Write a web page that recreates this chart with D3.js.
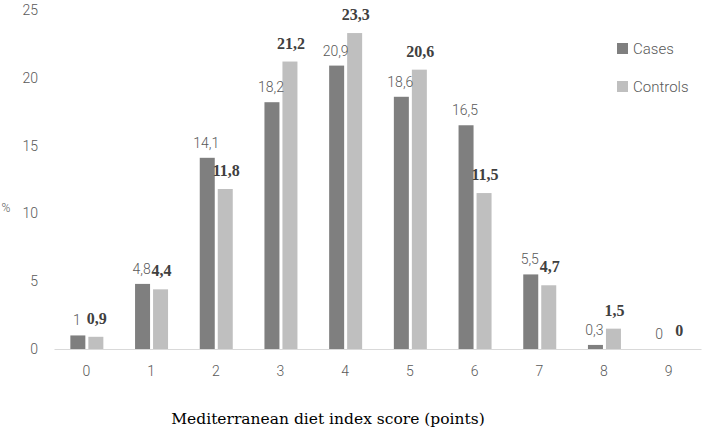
<!DOCTYPE html>
<html>
<head>
<meta charset="utf-8">
<script src="https://cdnjs.cloudflare.com/ajax/libs/d3/7.8.5/d3.min.js"></script>
<style>
  body { margin: 0; background: #fff; }
</style>
</head>
<body>
<div id="chart"></div>
<script>
(function () {
  let categories = ['0', '1', '2', '3', '4', '5', '6', '7', '8', '9'];
  let cases = [1, 4.8, 14.1, 18.2, 20.9, 18.6, 16.5, 5.5, 0.3, 0];
  let controls = [0.9, 4.4, 11.8, 21.2, 23.3, 20.6, 11.5, 4.7, 1.5, 0];
  let yTicks = [0, 5, 10, 15, 20, 25];

  let width = 708,
    height = 437;

  let svg = d3.select('#chart').append('svg')
    .attr('width', width)
    .attr('height', height);

  let xScale = d3.scaleBand()
    .domain(categories)
    .range([54, 701]);

  let yScale = d3.scaleLinear()
    .domain([0, 25])
    .range([349, 10]);

  let fmt = (v) => String(v).replace('.', ',');
  let sans = 'Roboto';

  // y tick labels (no axis line)
  svg.append('g').selectAll('text.ytick')
    .data(yTicks).enter()
    .append('text')
    .attr('class', 'ytick')
    .attr('x', 38)
    .attr('y', (d) => yScale(d))
    .attr('dy', '0.35em')
    .attr('text-anchor', 'end')
    .attr('fill', '#595959')
    .style('font-family', sans)
    .style('font-weight', '300')
    .style('font-size', '14px')
    .text((d) => d);

  svg.append('text')
    .attr('x', 6)
    .attr('y', 208)
    .attr('text-anchor', 'middle')
    .attr('dy', '0.35em')
    .attr('fill', '#595959')
    .style('font-family', sans)
    .style('font-weight', '300')
    .style('font-size', '12px')
    .text('%');

  let xAxis = svg.append('g')
    .attr('transform', 'translate(0,' + yScale(0) + ')')
    .call(d3.axisBottom(xScale).tickSize(0).tickPadding(17));
  xAxis.select('.domain').attr('stroke', '#d9d9d9');
  xAxis.selectAll('text')
    .attr('fill', '#595959')
    .style('font-family', sans)
    .style('font-weight', '300')
    .style('font-size', '14px');

  let barW = 15;

  svg.append('g').selectAll('rect.cases')
    .data(cases).enter()
    .append('rect')
    .attr('class', 'cases')
    .attr('x', (d, i) => xScale(categories[i]) + xScale.bandwidth() / 2 - barW - 1)
    .attr('y', (d) => yScale(d))
    .attr('width', barW)
    .attr('height', (d) => yScale(0) - yScale(d))
    .attr('fill', '#7f7f7f');

  svg.append('g').selectAll('rect.controls')
    .data(controls).enter()
    .append('rect')
    .attr('class', 'controls')
    .attr('x', (d, i) => xScale(categories[i]) + xScale.bandwidth() / 2 + 2)
    .attr('y', (d) => yScale(d))
    .attr('width', barW)
    .attr('height', (d) => yScale(0) - yScale(d))
    .attr('fill', '#bfbfbf');

  svg.append('g').selectAll('text.lcases')
    .data(cases).enter()
    .append('text')
    .attr('class', 'lcases')
    .attr('x', (d, i) => xScale(categories[i]) + xScale.bandwidth() / 2 - barW / 2 - 2)
    .attr('y', (d) => yScale(d) - 10)
    .attr('text-anchor', 'middle')
    .attr('fill', '#595959')
    .style('font-family', sans)
    .style('font-weight', '300')
    .style('font-size', '14px')
    .text((d) => fmt(d));

  svg.append('g').selectAll('text.lcontrols')
    .data(controls).enter()
    .append('text')
    .attr('class', 'lcontrols')
    .attr('x', (d, i) => xScale(categories[i]) + xScale.bandwidth() / 2 + barW / 2 + 3)
    .attr('y', (d) => yScale(d) - 13)
    .attr('text-anchor', 'middle')
    .attr('fill', '#404040')
    .style('font-family', 'Liberation Serif')
    .style('font-weight', 'bold')
    .style('font-size', '16px')
    .text((d) => fmt(d));

  // legend
  let legend = [['Cases', '#7f7f7f', 48], ['Controls', '#bfbfbf', 86]];
  let lg = svg.append('g').selectAll('g.legend')
    .data(legend).enter()
    .append('g')
    .attr('class', 'legend');
  lg.append('rect')
    .attr('x', 617)
    .attr('y', (d) => d[2] - 5)
    .attr('width', 11)
    .attr('height', 11)
    .attr('fill', (d) => d[1]);
  lg.append('text')
    .attr('x', 633)
    .attr('y', (d) => d[2] + 1)
    .attr('dy', '0.35em')
    .attr('fill', '#595959')
    .style('font-family', sans)
    .style('font-weight', '300')
    .style('font-size', '15px')
    .text((d) => d[0]);

  svg.append('text')
    .attr('x', 328)
    .attr('y', 424)
    .attr('text-anchor', 'middle')
    .attr('fill', '#000')
    .style('font-family', 'DejaVu Serif')
    .style('font-size', '15.5px')
    .text('Mediterranean diet index score (points)');
})();
</script>
</body>
</html>
